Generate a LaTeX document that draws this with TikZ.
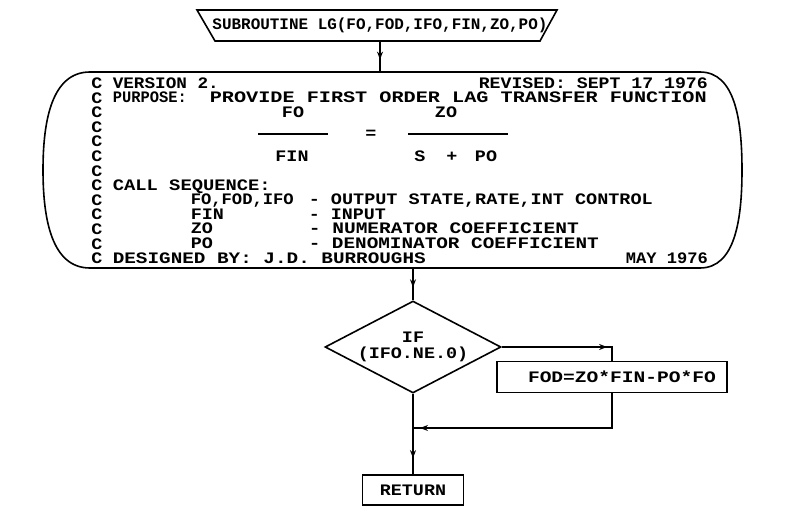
\documentclass[tikz,border=0pt]{standalone}
\usepackage{fontspec}
\usepackage{graphicx}
\newfontfamily\plotfont{Liberation Mono}
\newcommand{\pf}{\plotfont\bfseries\fontsize{16}{16}\selectfont}
\newcommand{\fitt}[2]{\resizebox{#1pt}{\height}{#2}}
\newcommand{\wide}[1]{\scalebox{1.15}[1]{#1}}
\usetikzlibrary{shapes.geometric,arrows.meta,decorations.markings}
\begin{document}
\begin{tikzpicture}[x=1pt,y=-1pt,line width=1.6pt,
  t/.style={anchor=base west,inner sep=0pt,font=\pf},
  tc/.style={anchor=base,inner sep=0pt,font=\pf},
  midarrow/.style={postaction={decorate},decoration={markings,mark=at position #1 with {\arrow{Stealth[length=8pt,width=6pt]}}}},
  box/.style={draw,rectangle,inner sep=0pt,font=\pf},
  dec/.style={draw,diamond,inner sep=0pt,aspect=1.9,minimum width=176pt,minimum height=92pt,font=\pf,align=center}
]
\useasboundingbox (0,0) rectangle (807,532);
% title trapezium
\draw (197,10) -- (557,10) -- (540,41) -- (215,41) -- cycle;
\node[tc] (title) at (380,30) {\fitt{335}{SUBROUTINE LG(FO,FOD,IFO,FIN,ZO,PO)}};
\coordinate (tbot) at (380,41);
% big terminal box
\draw (90,72) -- (700,72) .. controls (735,72) and (742,120) .. (742,170)
  .. controls (742,220) and (735,268) .. (700,268) -- (90,268)
  .. controls (52,268) and (43,220) .. (43,170)
  .. controls (43,120) and (52,72) .. (90,72);
\coordinate (btop) at (380,72);
\coordinate (bbot) at (413,268);
\draw[midarrow=0.6] (tbot) -- (btop);
% comment column
\foreach \i in {1,...,13}{
  \node[tc] (c\i) at (97,{88.5+14.6*(\i-1)}) {\wide{C}};
}
\node[t] (v1) at (112,88.5) {\fitt{106}{VERSION 2.}};
\node[t] (v2) at (478,88.5) {\fitt{229}{REVISED: SEPT 17 1976}};
\node[t] (p1) at (112,103) {\fitt{74}{PURPOSE:}};
\node[t] (p2) at (209,103) {\fitt{497}{PROVIDE FIRST ORDER LAG TRANSFER FUNCTION}};
\node[tc] (fo) at (293,117.5) {\wide{FO}};
\node[tc] (zo) at (446,117.5) {\wide{ZO}};
\draw (258,134) -- (328,134);
\node[tc] (eq) at (371,139) {\wide{=}};
\draw (408,134) -- (508,134);
\node[tc] (fin) at (292,161.5) {\wide{FIN}};
\node[tc] (s) at (420,161.5) {\wide{S}};
\node[tc] (plus) at (452,161.5) {\wide{+}};
\node[tc] (po) at (486,161.5) {\wide{PO}};
\node[t] (cs) at (112,190.5) {\fitt{158}{CALL SEQUENCE:}};
\node[t] (a1) at (190,205) {\fitt{103}{FO,FOD,IFO}};
\node[t] (a2) at (308,205) {\fitt{344}{- OUTPUT STATE,RATE,INT CONTROL}};
\node[t] (b1) at (190,219.5) {\wide{FIN}};
\node[t] (b2) at (308,219.5) {\fitt{77}{- INPUT}};
\node[t] (d1) at (190,234) {\wide{ZO}};
\node[t] (d2) at (308,234) {\fitt{270}{- NUMERATOR COEFFICIENT}};
\node[t] (e1) at (190,248.5) {\wide{PO}};
\node[t] (e2) at (308,248.5) {\fitt{290}{- DENOMINATOR COEFFICIENT}};
\node[t] (g1) at (112,263.5) {\fitt{313}{DESIGNED BY: J.D. BURROUGHS}};
\node[t] (g2) at (625,263.5) {\fitt{82}{MAY 1976}};
% flowchart
\node[dec] (if) at (413,347) {\wide{IF}\\\wide{(IFO.NE.0)}};
\draw[midarrow=0.6] (bbot) -- (if.north);
\node[box,minimum width=230pt,minimum height=31pt] (fod) at (612,377) {\hspace*{20pt}\fitt{188}{FOD=ZO*FIN-PO*FO}};
\draw[midarrow=0.85] (if.east) -| (fod.north);
\node[box,minimum width=101pt,minimum height=30pt] (ret) at (413,490) {\wide{RETURN}};
\coordinate (join) at (413,428);
\draw[midarrow=0.97] (fod.south) |- (join);
\draw[midarrow=0.8] (if.south) -- (ret.north);
\end{tikzpicture}
\end{document}
